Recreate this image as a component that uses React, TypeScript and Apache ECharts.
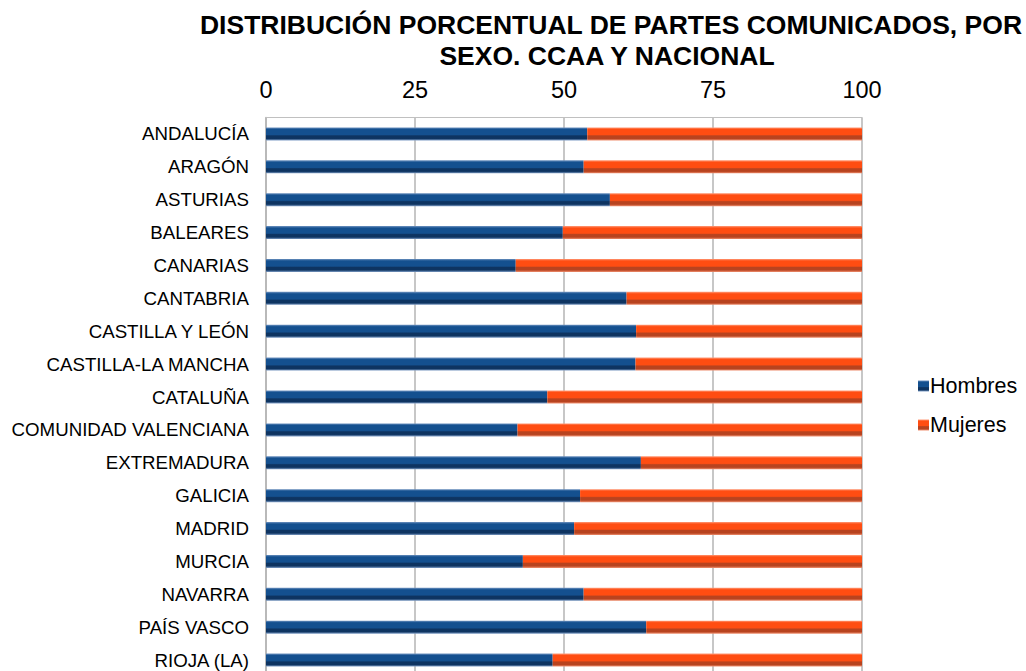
import React, { useEffect, useRef } from "react";
import * as echarts from "echarts";

const categories = [
  "ANDALUCÍA",
  "ARAGÓN",
  "ASTURIAS",
  "BALEARES",
  "CANARIAS",
  "CANTABRIA",
  "CASTILLA Y LEÓN",
  "CASTILLA-LA MANCHA",
  "CATALUÑA",
  "COMUNIDAD VALENCIANA",
  "EXTREMADURA",
  "GALICIA",
  "MADRID",
  "MURCIA",
  "NAVARRA",
  "PAÍS VASCO",
  "RIOJA (LA)",
];

const hombres = [53.9, 53.3, 57.7, 49.8, 41.9, 60.5, 62.1, 62.0, 47.2, 42.2, 62.9, 52.7, 51.7, 43.1, 53.3, 63.8, 48.1];
const mujeres = [46.1, 46.7, 42.3, 50.2, 58.1, 39.5, 37.9, 38.0, 52.8, 57.8, 37.1, 47.3, 48.3, 56.9, 46.7, 36.2, 51.9];

const titleLine1 = "DISTRIBUCIÓN PORCENTUAL DE PARTES COMUNICADOS, POR";
const titleLine2 = "SEXO. CCAA Y NACIONAL";

const FONT = "'Liberation Sans', Arial, sans-serif";

function bevel(top: string, main: string, dark: string, bottom: string) {
  return new echarts.graphic.LinearGradient(0, 0, 0, 1, [
    { offset: 0, color: top },
    { offset: 0.15, color: main },
    { offset: 0.55, color: main },
    { offset: 0.65, color: dark },
    { offset: 0.85, color: dark },
    { offset: 1, color: bottom },
  ]);
}

export default function App() {
  const ref = useRef<HTMLDivElement>(null);
  useEffect(() => {
    if (!ref.current) return;
    const chart = echarts.init(ref.current, undefined, { renderer: "svg" });
    chart.setOption({
      animation: false,
      backgroundColor: "#ffffff",
      graphic: [
        {
          type: "text",
          style: {
            text: titleLine1,
            x: 611,
            y: 25,
            textAlign: "center",
            textVerticalAlign: "middle",
            font: `bold 26.5px ${FONT}`,
            fill: "#000",
          },
        },
        {
          type: "text",
          style: {
            text: titleLine2,
            x: 607,
            y: 56,
            textAlign: "center",
            textVerticalAlign: "middle",
            font: `bold 26.5px ${FONT}`,
            fill: "#000",
          },
        },
      ],
      legend: {
        orient: "vertical",
        left: 918,
        top: 375,
        padding: 0,
        itemWidth: 11,
        itemHeight: 11,
        itemGap: 17,
        icon: "rect",
        textStyle: { fontFamily: FONT, fontSize: 21.5, color: "#000", lineHeight: 21, padding: [0, 0, 0, -4] },
        data: ["Hombres", "Mujeres"],
      },
      grid: { left: 266, right: 164, top: 117.5, bottom: 13.5 },
      xAxis: {
        type: "value",
        position: "top",
        min: 0,
        max: 100,
        interval: 25,
        axisLine: { show: true, lineStyle: { color: "#c0c0c0", width: 1 } },
        axisTick: { show: false },
        axisLabel: { fontFamily: FONT, fontSize: 23.5, color: "#000", margin: 16 },
        splitLine: { show: true, lineStyle: { color: "#b4b4b4", width: 1.5 } },
      },
      yAxis: {
        type: "category",
        data: categories,
        inverse: true,
        axisLine: { show: true, lineStyle: { color: "#b4b4b4", width: 1.5 } },
        axisTick: { show: false },
        axisLabel: { fontFamily: FONT, fontSize: 18.7, color: "#000", margin: 17 },
      },
      series: [
        {
          name: "Hombres",
          type: "bar",
          stack: "total",
          barWidth: 13,
          data: hombres,
          itemStyle: { color: bevel("#6f93c0", "#14508f", "#0e3461", "#7d9cc5") },
        },
        {
          name: "Mujeres",
          type: "bar",
          stack: "total",
          barWidth: 13,
          data: mujeres,
          itemStyle: { color: bevel("#ff9a78", "#ff4d12", "#b8431f", "#f09070") },
        },
      ],
    });
    return () => chart.dispose();
  }, []);
  return (
    <div
      ref={ref}
      style={{ position: "fixed", left: 0, top: 0, width: 1026, height: 690, background: "#fff" }}
    />
  );
}
